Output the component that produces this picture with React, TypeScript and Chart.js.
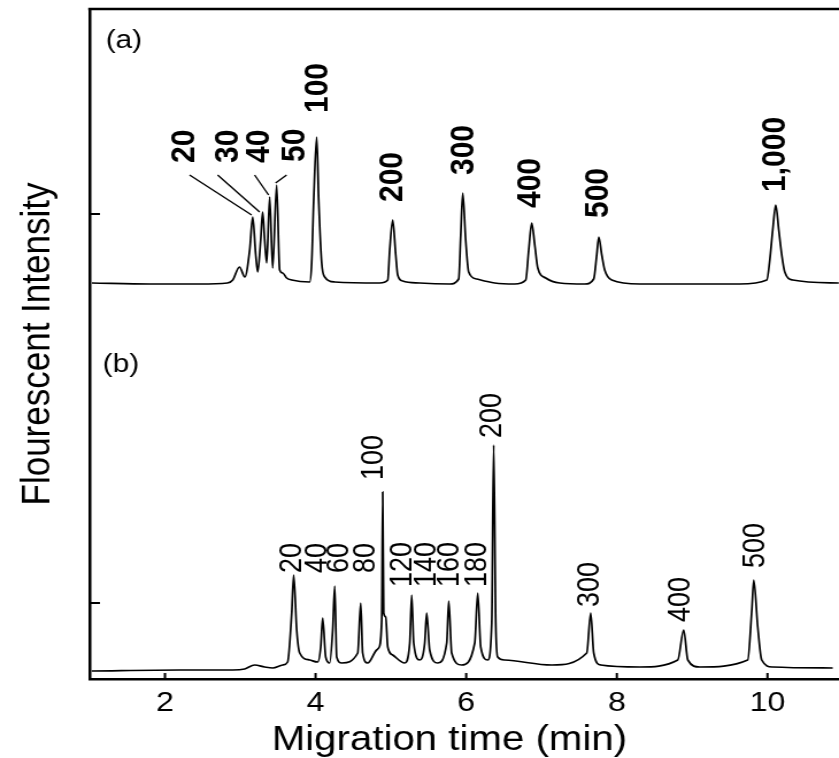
import React, { useEffect, useRef } from 'react';
import { Chart, registerables } from 'chart.js';

Chart.register(...registerables);

// Trace (a): migration time (min) and fluorescence (arbitrary units, offset trace)
const timeA = [
  1.03, 1.8, 2.46, 2.83, 2.9, 2.99, 3.06, 3.125, 3.165, 3.205, 3.231, 3.271, 3.297, 3.324, 3.351,
  3.39, 3.43, 3.483, 3.523, 3.563, 3.616, 3.683, 3.922, 3.948, 3.975, 4.015, 4.041, 4.081, 4.121,
  4.254, 4.851, 4.958, 4.984, 5.024, 5.064, 5.09, 5.157, 5.382, 5.781, 5.9, 5.927, 5.954, 5.993,
  6.033, 6.139, 6.378, 6.644, 6.79, 6.83, 6.87, 6.91, 6.95, 7.056, 7.242, 7.574, 7.693, 7.733,
  7.76, 7.8, 7.839, 7.932, 8.304, 9.0, 9.632, 9.991, 10.031, 10.07, 10.11, 10.15, 10.19, 10.23,
  10.336, 10.947,
];
const signalA = [
  396, 395, 395, 396, 399, 412, 402, 429, 462, 424, 407, 439, 467, 439, 416,
  482, 411, 494, 409, 406, 401, 399, 397, 416, 479, 542, 479, 416, 402,
  397, 396, 399, 429, 459, 424, 404, 398, 396, 395, 400, 444, 486, 439,
  407, 400, 396, 395, 399, 429, 456, 434, 411, 401, 396, 395, 400, 424,
  442, 424, 409, 399, 395, 395, 395, 399, 419, 449, 474, 449, 424, 407,
  399, 396,
];

// Trace (b)
const timeB = [
  1.027, 2.195, 2.899, 3.058, 3.191, 3.324, 3.43, 3.563, 3.629, 3.683, 3.709, 3.749, 3.789, 3.922,
  4.028, 4.068, 4.094, 4.134, 4.187, 4.227, 4.254, 4.28, 4.347, 4.559, 4.599, 4.625, 4.692, 4.811,
  4.838, 4.878, 4.891, 4.904, 4.931, 4.958, 5.024, 5.183, 5.25, 5.276, 5.303, 5.382, 5.449, 5.475,
  5.515, 5.622, 5.741, 5.768, 5.807, 5.94, 6.113, 6.153, 6.193, 6.286, 6.339, 6.365, 6.392, 6.418,
  6.511, 7.135, 7.6, 7.653, 7.693, 7.786, 8.304, 8.809, 8.888, 8.942, 9.101, 9.738, 9.792, 9.818,
  9.871, 9.924, 10.07, 10.867,
];
const signalB = [
  8, 9, 9, 10, 14, 12, 11, 14, 17, 66, 104, 49, 26, 19,
  17, 32, 61, 22, 16, 49, 93, 22, 16, 26, 76, 26, 16, 29,
  31, 59, 187, 66, 62, 32, 24, 16, 36, 84, 36, 19, 36, 66,
  29, 16, 36, 78, 26, 14, 36, 86, 32, 19, 56, 234, 56, 22,
  19, 14, 26, 66, 26, 14, 12, 19, 49, 19, 12, 19, 69, 99,
  52, 19, 12, 11,
];

const xTicks = [2, 4, 6, 8, 10];
const yTicks = [76, 465];

// Peak size annotations (bp)
const labelsA = ['20', '30', '40', '50', '100', '200', '300', '400', '500', '1,000'];
const labelATime = [2.26, 2.845, 3.257, 3.721, 4.027, 5.022, 5.965, 6.854, 7.757, 10.107];
const labelALevel = [516, 516, 516, 517, 566, 477, 504, 471, 461, 487];
const leaderFromTime = [2.327, 2.699, 3.19, 3.615];
const leaderFromLevel = [504, 504, 504, 504];
const leaderToTime = [3.151, 3.257, 3.376, 3.469];
const leaderToLevel = [464, 467, 484, 496];

const labelsB = ['20', '40', '60', '80', '100', '120', '140', '160', '180', '200', '300', '400', '500'];
const labelBTime = [3.695, 4.027, 4.319, 4.677, 4.783, 5.155, 5.474, 5.779, 6.151, 6.35, 7.651, 8.859, 9.841];
const labelBLevel = [106, 106, 106, 106, 199, 92, 92, 92, 92, 241, 72, 57, 111];

const panelLabels = ['(a)', '(b)'];
const panelTime = [1.212, 1.173];
const panelLevel = [638, 314];

const FONT = '"Liberation Sans", Arial, Helvetica, sans-serif';

const annotatePlugin = {
  id: 'annotate',
  afterDraw(chart: any) {
    const { ctx, chartArea, scales } = chart;
    const x = scales.x;
    const y = scales.y;
    ctx.save();
    ctx.strokeStyle = '#000';
    ctx.fillStyle = '#000';
    // top frame line
    ctx.lineWidth = 2.5;
    ctx.beginPath();
    ctx.moveTo(chartArea.left - 1.2, chartArea.top);
    ctx.lineTo(chartArea.right, chartArea.top);
    ctx.stroke();
    // inward tick marks
    ctx.lineWidth = 2;
    ctx.beginPath();
    x.ticks.forEach((t: any) => {
      const px = x.getPixelForValue(t.value);
      ctx.moveTo(px, chartArea.bottom);
      ctx.lineTo(px, chartArea.bottom - 6);
    });
    y.ticks.forEach((t: any) => {
      const py = y.getPixelForValue(t.value);
      ctx.moveTo(chartArea.left, py);
      ctx.lineTo(chartArea.left + 9, py);
    });
    ctx.stroke();
    // leader lines for (a)
    ctx.lineWidth = 1.4;
    ctx.beginPath();
    for (let i = 0; i < leaderFromTime.length; i++) {
      ctx.moveTo(x.getPixelForValue(leaderFromTime[i]), y.getPixelForValue(leaderFromLevel[i]));
      ctx.lineTo(x.getPixelForValue(leaderToTime[i]), y.getPixelForValue(leaderToLevel[i]));
    }
    ctx.stroke();
    const drawRotated = (text: string, t: number, v: number, font: string) => {
      ctx.save();
      ctx.translate(x.getPixelForValue(t), y.getPixelForValue(v));
      ctx.rotate(-Math.PI / 2);
      ctx.font = font;
      ctx.textAlign = 'left';
      ctx.textBaseline = 'middle';
      ctx.fillText(text, 0, 0);
      ctx.restore();
    };
    labelsA.forEach((s, i) => drawRotated(s, labelATime[i], labelALevel[i], `bold 30px ${FONT}`));
    labelsB.forEach((s, i) => drawRotated(s, labelBTime[i], labelBLevel[i], `27px ${FONT}`));
    // panel labels
    ctx.font = `26px ${FONT}`;
    ctx.textAlign = 'left';
    ctx.textBaseline = 'middle';
    panelLabels.forEach((s, i) => {
      ctx.fillText(s, x.getPixelForValue(panelTime[i]), y.getPixelForValue(panelLevel[i]));
    });
    // x axis title
    ctx.font = `35px ${FONT}`;
    ctx.textAlign = 'center';
    ctx.textBaseline = 'middle';
    ctx.fillText('Migration time (min)', (chartArea.left + chartArea.right) / 2 - 13, 740.5);
    ctx.restore();
  },
};

export default function App() {
  const ref = useRef<HTMLCanvasElement | null>(null);
  useEffect(() => {
    if (!ref.current) return;
    const chart = new Chart(ref.current, {
      type: 'line',
      data: {
        datasets: [
          {
            label: '(a)',
            data: timeA.map((t, i) => ({ x: t, y: signalA[i] })),
            borderColor: '#000',
            borderWidth: 1.7,
            pointRadius: 0,
            cubicInterpolationMode: 'monotone',
            fill: false,
          },
          {
            label: '(b)',
            data: timeB.map((t, i) => ({ x: t, y: signalB[i] })),
            borderColor: '#000',
            borderWidth: 1.7,
            pointRadius: 0,
            cubicInterpolationMode: 'monotone',
            fill: false,
          },
        ],
      },
      options: {
        responsive: false,
        animation: false,
        devicePixelRatio: 1,
        layout: { padding: { top: 9, right: 0, bottom: 0, left: 0 } },
        plugins: { legend: { display: false }, tooltip: { enabled: false } },
        scales: {
          x: {
            type: 'linear',
            min: 1,
            max: 10.95,
            afterBuildTicks: (scale: any) => {
              scale.ticks = xTicks.map((v) => ({ value: v }));
            },
            afterFit: (scale: any) => {
              scale.height = 79;
            },
            grid: { display: false, drawTicks: false },
            border: { display: true, color: '#000', width: 2.5 },
            ticks: {
              color: '#000',
              padding: 7,
              font: { family: FONT, size: 28 },
              maxRotation: 0,
              autoSkip: false,
            },
          },
          y: {
            type: 'linear',
            min: 0,
            max: 670,
            afterBuildTicks: (scale: any) => {
              scale.ticks = yTicks.map((v) => ({ value: v }));
            },
            afterFit: (scale: any) => {
              scale.width = 78;
            },
            grid: { display: false, drawTicks: false },
            border: { display: true, color: '#000', width: 2.5 },
            ticks: { display: false },
            title: {
              display: true,
              text: 'Flourescent Intensity',
              color: '#000',
              font: { family: FONT, size: 35, lineHeight: 1 },
              padding: { top: 15.5, bottom: 0 },
            },
          },
        },
      },
      plugins: [annotatePlugin],
    } as any);
    return () => chart.destroy();
  }, []);
  return (
    <div style={{ position: 'absolute', left: 0, top: 0, width: 839, height: 758, background: '#fff' }}>
      <canvas
        ref={ref}
        width={730}
        height={758}
        style={{ width: '839px', height: '758px', display: 'block' }}
      />
    </div>
  );
}
